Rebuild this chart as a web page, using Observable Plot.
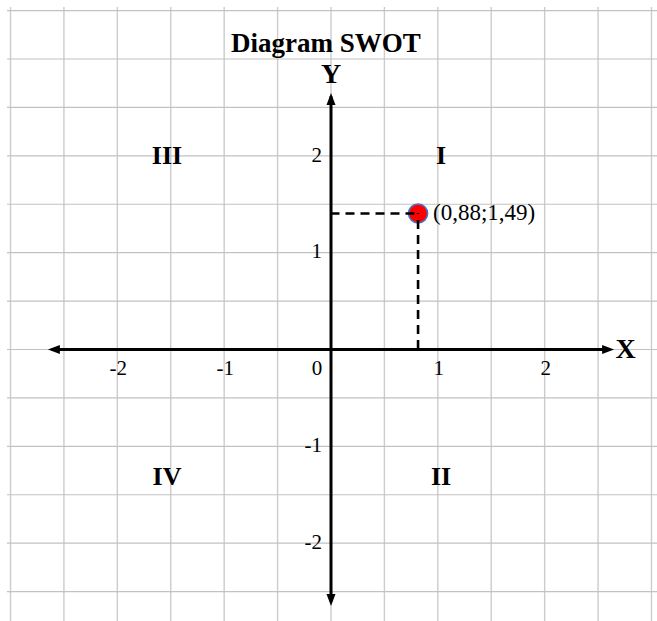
<!DOCTYPE html>
<html>
<head>
<meta charset="utf-8">
<script src="https://cdn.jsdelivr.net/npm/d3@7"></script>
<script src="https://cdn.jsdelivr.net/npm/@observablehq/plot@0.6"></script>
<style>
  html, body { margin: 0; padding: 0; background: #ffffff; }
  #chart svg { display: block; }
</style>
</head>
<body>
<div id="chart"></div>
<script>
// ---- data ----
const title = "Diagram SWOT";
const gridX = [-3, -2.5, -2, -1.5, -1, -0.5, 0, 0.5, 1, 1.5, 2, 2.5, 3];
const gridY = [-2.5, -2, -1.5, -1, -0.5, 0, 0.5, 1, 1.5, 2, 2.5, 3, 3.5];
const xTicks = [-2, -1, 1, 2];
const yTicks = [-2, -1, 1, 2];
const originLabel = ["0"];
const axisExtent = [-2.65, 2.65];
const quadrantNames = ["I", "II", "III", "IV"];
const quadrantX = [1.03, 1.03, -1.535, -1.535];
const quadrantY = [2, -1.31, 2, -1.31];
const pointLabel = ["(0,88;1,49)"];
const pointX = [0.815];
const pointY = [1.405];
const axisNames = ["X", "Y"];
const axisNameX = [2.757, 0];
const axisNameY = [0, 2.846];

// ---- derived tables ----
const quadrants = quadrantNames.map((n, i) => ({name: n, x: quadrantX[i], y: quadrantY[i]}));
const point = pointX.map((x, i) => ({x, y: pointY[i], label: pointLabel[i]}));
const axisLabels = axisNames.map((n, i) => ({name: n, x: axisNameX[i], y: axisNameY[i]}));
const arrowHeads = [
  {x: axisExtent[1], y: 0, rotate: 90},
  {x: axisExtent[0], y: 0, rotate: 270},
  {x: 0, y: axisExtent[1], rotate: 0},
  {x: 0, y: axisExtent[0], rotate: 180}
];

const W = 657, H = 621;
const xDomain = [-3.0937, 3.0563];
const yDomain = [-2.8091, 3.6042];
const serif = "'Liberation Serif', 'Times New Roman', serif";
const lineEnd = axisExtent[1] - 0.04;

const chart = Plot.plot({
  width: W,
  height: H,
  margin: 0,
  x: {domain: xDomain, axis: null},
  y: {domain: yDomain, axis: null},
  style: {background: "#ffffff", overflow: "visible"},
  marks: [
    // grid
    Plot.ruleX(gridX, {x: d => d, y1: 3.532, y2: yDomain[0], stroke: "#cccccc", strokeWidth: 1.4}),
    Plot.ruleY(gridY, {y: d => d, x1: -3.028, x2: xDomain[1], stroke: "#c2c2c2", strokeWidth: 1.2}),
    // axes
    Plot.ruleY([0], {x1: -lineEnd, x2: lineEnd, stroke: "#000", strokeWidth: 3}),
    Plot.ruleX([0], {y1: -lineEnd, y2: lineEnd, stroke: "#000", strokeWidth: 3}),
    Plot.vector(arrowHeads, {
      x: "x", y: "y", rotate: "rotate", shape: "spike", anchor: "end",
      length: 12, r: 4.5, fill: "#000", fillOpacity: 1, stroke: "none"
    }),
    // point
    Plot.dot(point, {x: "x", y: "y", r: 9.5, fill: "#ff0000", stroke: "#4a72c4", strokeWidth: 1.6}),
    // dashed guides
    Plot.ruleY(point, {y: "y", x1: 0, x2: "x", stroke: "#000", strokeWidth: 2.6, strokeDasharray: "9,6"}),
    Plot.ruleX(point, {x: "x", y1: 0, y2: "y", stroke: "#000", strokeWidth: 2.6, strokeDasharray: "9,6"}),
    Plot.text(point, {x: "x", y: "y", text: "label", textAnchor: "start", dx: 15, dy: -1,
      fontFamily: serif, fontSize: 23, fill: "#000"}),
    // tick labels
    Plot.text(xTicks, {x: d => d, y: 0, text: d => String(d), dx: 1, dy: 19,
      fontFamily: serif, fontSize: 21, fill: "#000"}),
    Plot.text(yTicks, {x: 0, y: d => d, text: d => String(d), textAnchor: "end", dx: -9, dy: -1,
      fontFamily: serif, fontSize: 21, fill: "#000"}),
    Plot.text(originLabel, {x: 0, y: 0, text: d => d, dx: -14, dy: 19,
      fontFamily: serif, fontSize: 21, fill: "#000"}),
    // quadrant labels
    Plot.text(quadrants, {x: "x", y: "y", text: "name",
      fontFamily: serif, fontSize: 26, fontWeight: "bold", fill: "#000"}),
    // axis names
    Plot.text(axisLabels, {x: "x", y: "y", text: "name",
      fontFamily: serif, fontSize: 28, fontWeight: "bold", fill: "#000"}),
    // title
    Plot.text([title], {x: 0, y: 3.166, text: d => d, dx: -5,
      fontFamily: serif, fontSize: 27, fontWeight: "bold", fill: "#000"})
  ]
});

document.getElementById("chart").appendChild(chart);
</script>
</body>
</html>
